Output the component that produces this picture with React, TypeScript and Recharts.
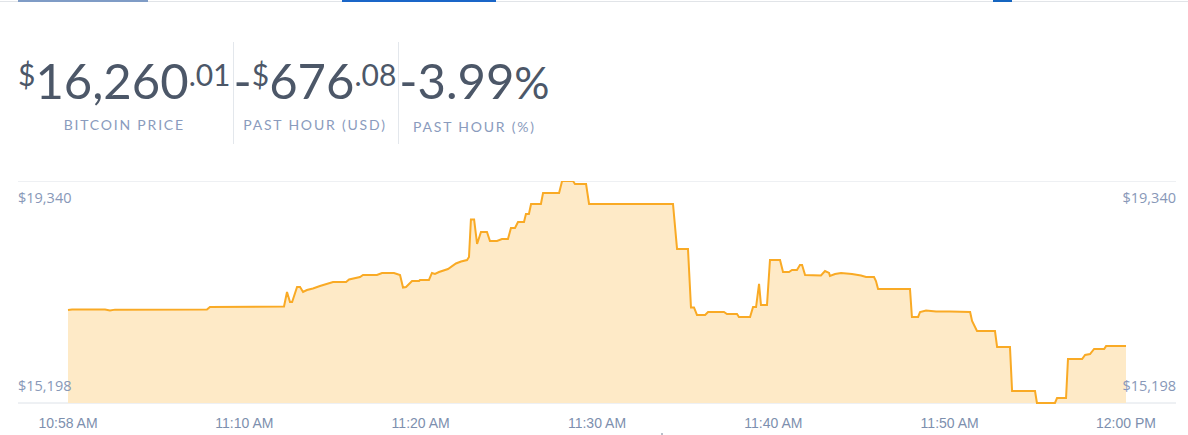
import { AreaChart, Area, XAxis, YAxis, CartesianGrid, ReferenceLine } from 'recharts'

// minutes from the first sample (chart domain 0..60)
const times = [
  0, 0.23, 2.1, 2.38, 2.67, 7.88, 8.05, 12.25, 12.42, 12.59, 12.71, 12.99, 13.16, 13.33, 13.55,
  13.89, 14.29, 15.03, 15.77, 15.94, 16.56, 16.73, 17.52, 17.81, 18.49, 18.83, 19.0, 19.17,
  19.51, 19.91, 19.96, 20.47, 20.64, 20.81, 21.04, 21.55, 22.0, 22.29, 22.63, 22.74, 22.85,
  23.03, 23.2, 23.42, 23.76, 23.93, 24.33, 24.61, 24.95, 25.12, 25.35, 25.52, 25.86, 25.97,
  26.14, 26.26, 26.82, 26.94, 27.85, 28.02, 28.64, 28.75, 29.38, 29.55, 34.31, 34.54, 35.16,
  35.33, 35.5, 35.67, 36.13, 36.3, 37.2, 37.37, 37.94, 38.05, 38.68, 38.85, 39.02, 39.19,
  39.3, 39.64, 39.81, 40.38, 40.55, 40.89, 41.06, 41.34, 41.51, 41.63, 41.8, 42.7, 42.93,
  43.16, 43.21, 43.5, 43.84, 44.46, 44.97, 45.26, 45.71, 45.82, 45.94, 47.75, 47.86, 48.21,
  48.32, 48.66, 49.23, 50.02, 51.16, 51.27, 51.55, 52.57, 52.69, 53.42, 53.54, 54.84, 54.95,
  55.97, 56.09, 56.6, 56.71, 57.51, 57.68, 57.96, 58.19, 58.76, 58.87, 60,
]

const prices = [
  16933, 16943, 16943, 16924, 16940, 16943, 16989, 16999, 17269, 17083, 17083, 17362, 17362,
  17269, 17306, 17334, 17381, 17456, 17456, 17502, 17549, 17586, 17586, 17624, 17624, 17586,
  17353, 17362, 17474, 17474, 17493, 17493, 17624, 17605, 17642, 17698, 17801, 17838, 17866,
  17922, 18622, 18622, 18165, 18389, 18389, 18221, 18221, 18258, 18258, 18463, 18463, 18575,
  18575, 18724, 18724, 18911, 18911, 19116, 19116, 19340, 19340, 19284, 19284, 18911, 18911,
  18071, 18071, 16980, 16980, 16840, 16840, 16896, 16896, 16859, 16859, 16803, 16803, 16989,
  16989, 17419, 17026, 17026, 17866, 17866, 17642, 17642, 17680, 17680, 17773, 17773, 17586,
  17577, 17661, 17624, 17568, 17605, 17624, 17605, 17577, 17549, 17549, 17474, 17325, 17325,
  16803, 16803, 16896, 16924, 16905, 16905, 16896, 16728, 16541, 16541, 16243, 16243, 15422,
  15422, 15198, 15198, 15291, 15291, 16019, 16019, 16094, 16112, 16206, 16206, 16260, 16260,
]

const xTicks = [0, 10, 20, 30, 40, 50, 60]
const xTickLabels = ['10:58 AM', '11:10 AM', '11:20 AM', '11:30 AM', '11:40 AM', '11:50 AM', '12:00 PM']
const yTicks = [15198, 19340]

const stats = [
  { sign: '', cur: '$', whole: '16,260', frac: '.01', label: 'BITCOIN PRICE' },
  { sign: '-', cur: '$', whole: '676', frac: '.08', label: 'PAST HOUR (USD)' },
  { sign: '-', cur: '', whole: '3.99', frac: '', label: 'PAST HOUR (%)' },
]

const data = times.map((t, i) => ({ t, price: prices[i] }))

const STROKE = '#f9aa25'
const FILL = '#feeac7'
const LABEL = '#8a9bbd'
const GRID = '#dde2e8'
const FONT = 'Lato, "Open Sans", sans-serif'
const TICK_FONT = '"Open Sans", sans-serif'

const fmtUsd = (v: number) => `$${v.toLocaleString('en-US')}`
// labels sit just inside the top / bottom grid line
const labelShift = (v: number) => (v === yTicks[1] ? 16 : -18)

const leftTick = (props: any) => {
  const { x, y, payload } = props
  return (
    <text
      x={x}
      y={Number(y) + labelShift(payload.value)}
      textAnchor="start"
      dominantBaseline="central"
      fill="#8898b8"
      fontSize={14.5}
      fontFamily={TICK_FONT}
    >
      {fmtUsd(payload.value)}
    </text>
  )
}

const rightLabel = (v: number) => (props: any) => {
  const vb = props.viewBox
  return (
    <text
      x={vb.x + vb.width}
      y={vb.y + labelShift(v)}
      textAnchor="end"
      dominantBaseline="central"
      fill="#8898b8"
      fontSize={14.5}
      fontFamily={TICK_FONT}
    >
      {fmtUsd(v)}
    </text>
  )
}

function Stat({ s, last }: { s: (typeof stats)[number]; last: boolean }) {
  const sup: React.CSSProperties = {
    fontSize: 30,
    lineHeight: '30px',
    verticalAlign: 'top',
    position: 'relative',
    top: 4,
  }
  return (
    <div
      style={{
        display: 'flex',
        flexDirection: 'column',
        alignItems: 'center',
        padding: '13px 2px 9px 0',
        borderRight: last ? 'none' : `1px solid #e3e7ec`,
      }}
    >
      <div style={{ fontSize: 49, lineHeight: '50px', fontWeight: 400, color: '#4c5768', whiteSpace: 'nowrap' }}>
        {s.sign}
        {s.cur && <span style={sup}>{s.cur}</span>}
        {s.whole}
        {s.frac && <span style={sup}>{s.frac}</span>}
        {last && <span style={{ fontSize: 44 }}>%</span>}
      </div>
      <div style={{ marginTop: 12, fontSize: 14, lineHeight: '16px', letterSpacing: 1.8, color: LABEL }}>
        {s.label}
      </div>
    </div>
  )
}

export default function App() {
  return (
    <div
      style={{
        position: 'absolute',
        left: 0,
        top: 0,
        width: 1188,
        height: 435,
        background: '#fff',
        overflow: 'hidden',
        fontFamily: FONT,
      }}
    >
      {/* tab strip */}
      <div style={{ position: 'absolute', left: 0, top: 1, width: 1188, height: 1, background: '#e1e4e8' }} />
      <div style={{ position: 'absolute', left: 18, top: 0, width: 130, height: 2, background: '#7f9cc6' }} />
      <div style={{ position: 'absolute', left: 342, top: 0, width: 154, height: 2, background: '#1a66c8' }} />
      <div style={{ position: 'absolute', left: 993, top: 0, width: 19, height: 2, background: '#1565c0' }} />

      <div style={{ position: 'absolute', left: 18, top: 42, display: 'flex' }}>
        {stats.map((s, i) => (
          <Stat key={s.label} s={s} last={i === stats.length - 1} />
        ))}
      </div>

      <div style={{ position: 'absolute', left: 18, top: 181 }}>
        <AreaChart width={1158} height={254} data={data} margin={{ top: 0, right: 0, bottom: 0, left: 0 }}>
          <CartesianGrid vertical={false} stroke={GRID} strokeWidth={1} yAxisId="left" />
          <XAxis
            dataKey="t"
            type="number"
            domain={[0, 60]}
            ticks={xTicks}
            padding={{ left: 50, right: 50 }}
            tickFormatter={(v: number) => xTickLabels[xTicks.indexOf(v)]}
            axisLine={false}
            tickLine={false}
            tickSize={0}
            tickMargin={15}
            height={32}
            interval={0}
            tick={{ fill: '#7d8fae', fontSize: 14, fontFamily: '"Liberation Sans", Arial, sans-serif' }}
          />
          <YAxis
            yAxisId="left"
            domain={[yTicks[0], yTicks[1]]}
            ticks={yTicks}
            interval={0}
            mirror
            width={60}
            axisLine={false}
            tickLine={false}
            tickSize={0}
            tickMargin={0}
            tick={leftTick}
          />
          {yTicks.map((v) => (
            <ReferenceLine key={v} yAxisId="left" y={v} stroke="none" label={rightLabel(v)} />
          ))}
          <Area
            yAxisId="left"
            type="linear"
            dataKey="price"
            stroke={STROKE}
            strokeWidth={2}
            fill={FILL}
            fillOpacity={1}
            dot={false}
            activeDot={false}
            isAnimationActive={false}
          />
        </AreaChart>
      </div>
      <div style={{ position: 'absolute', left: 661, top: 433, width: 2, height: 2, background: '#b8bfc9' }} />
    </div>
  )
}
